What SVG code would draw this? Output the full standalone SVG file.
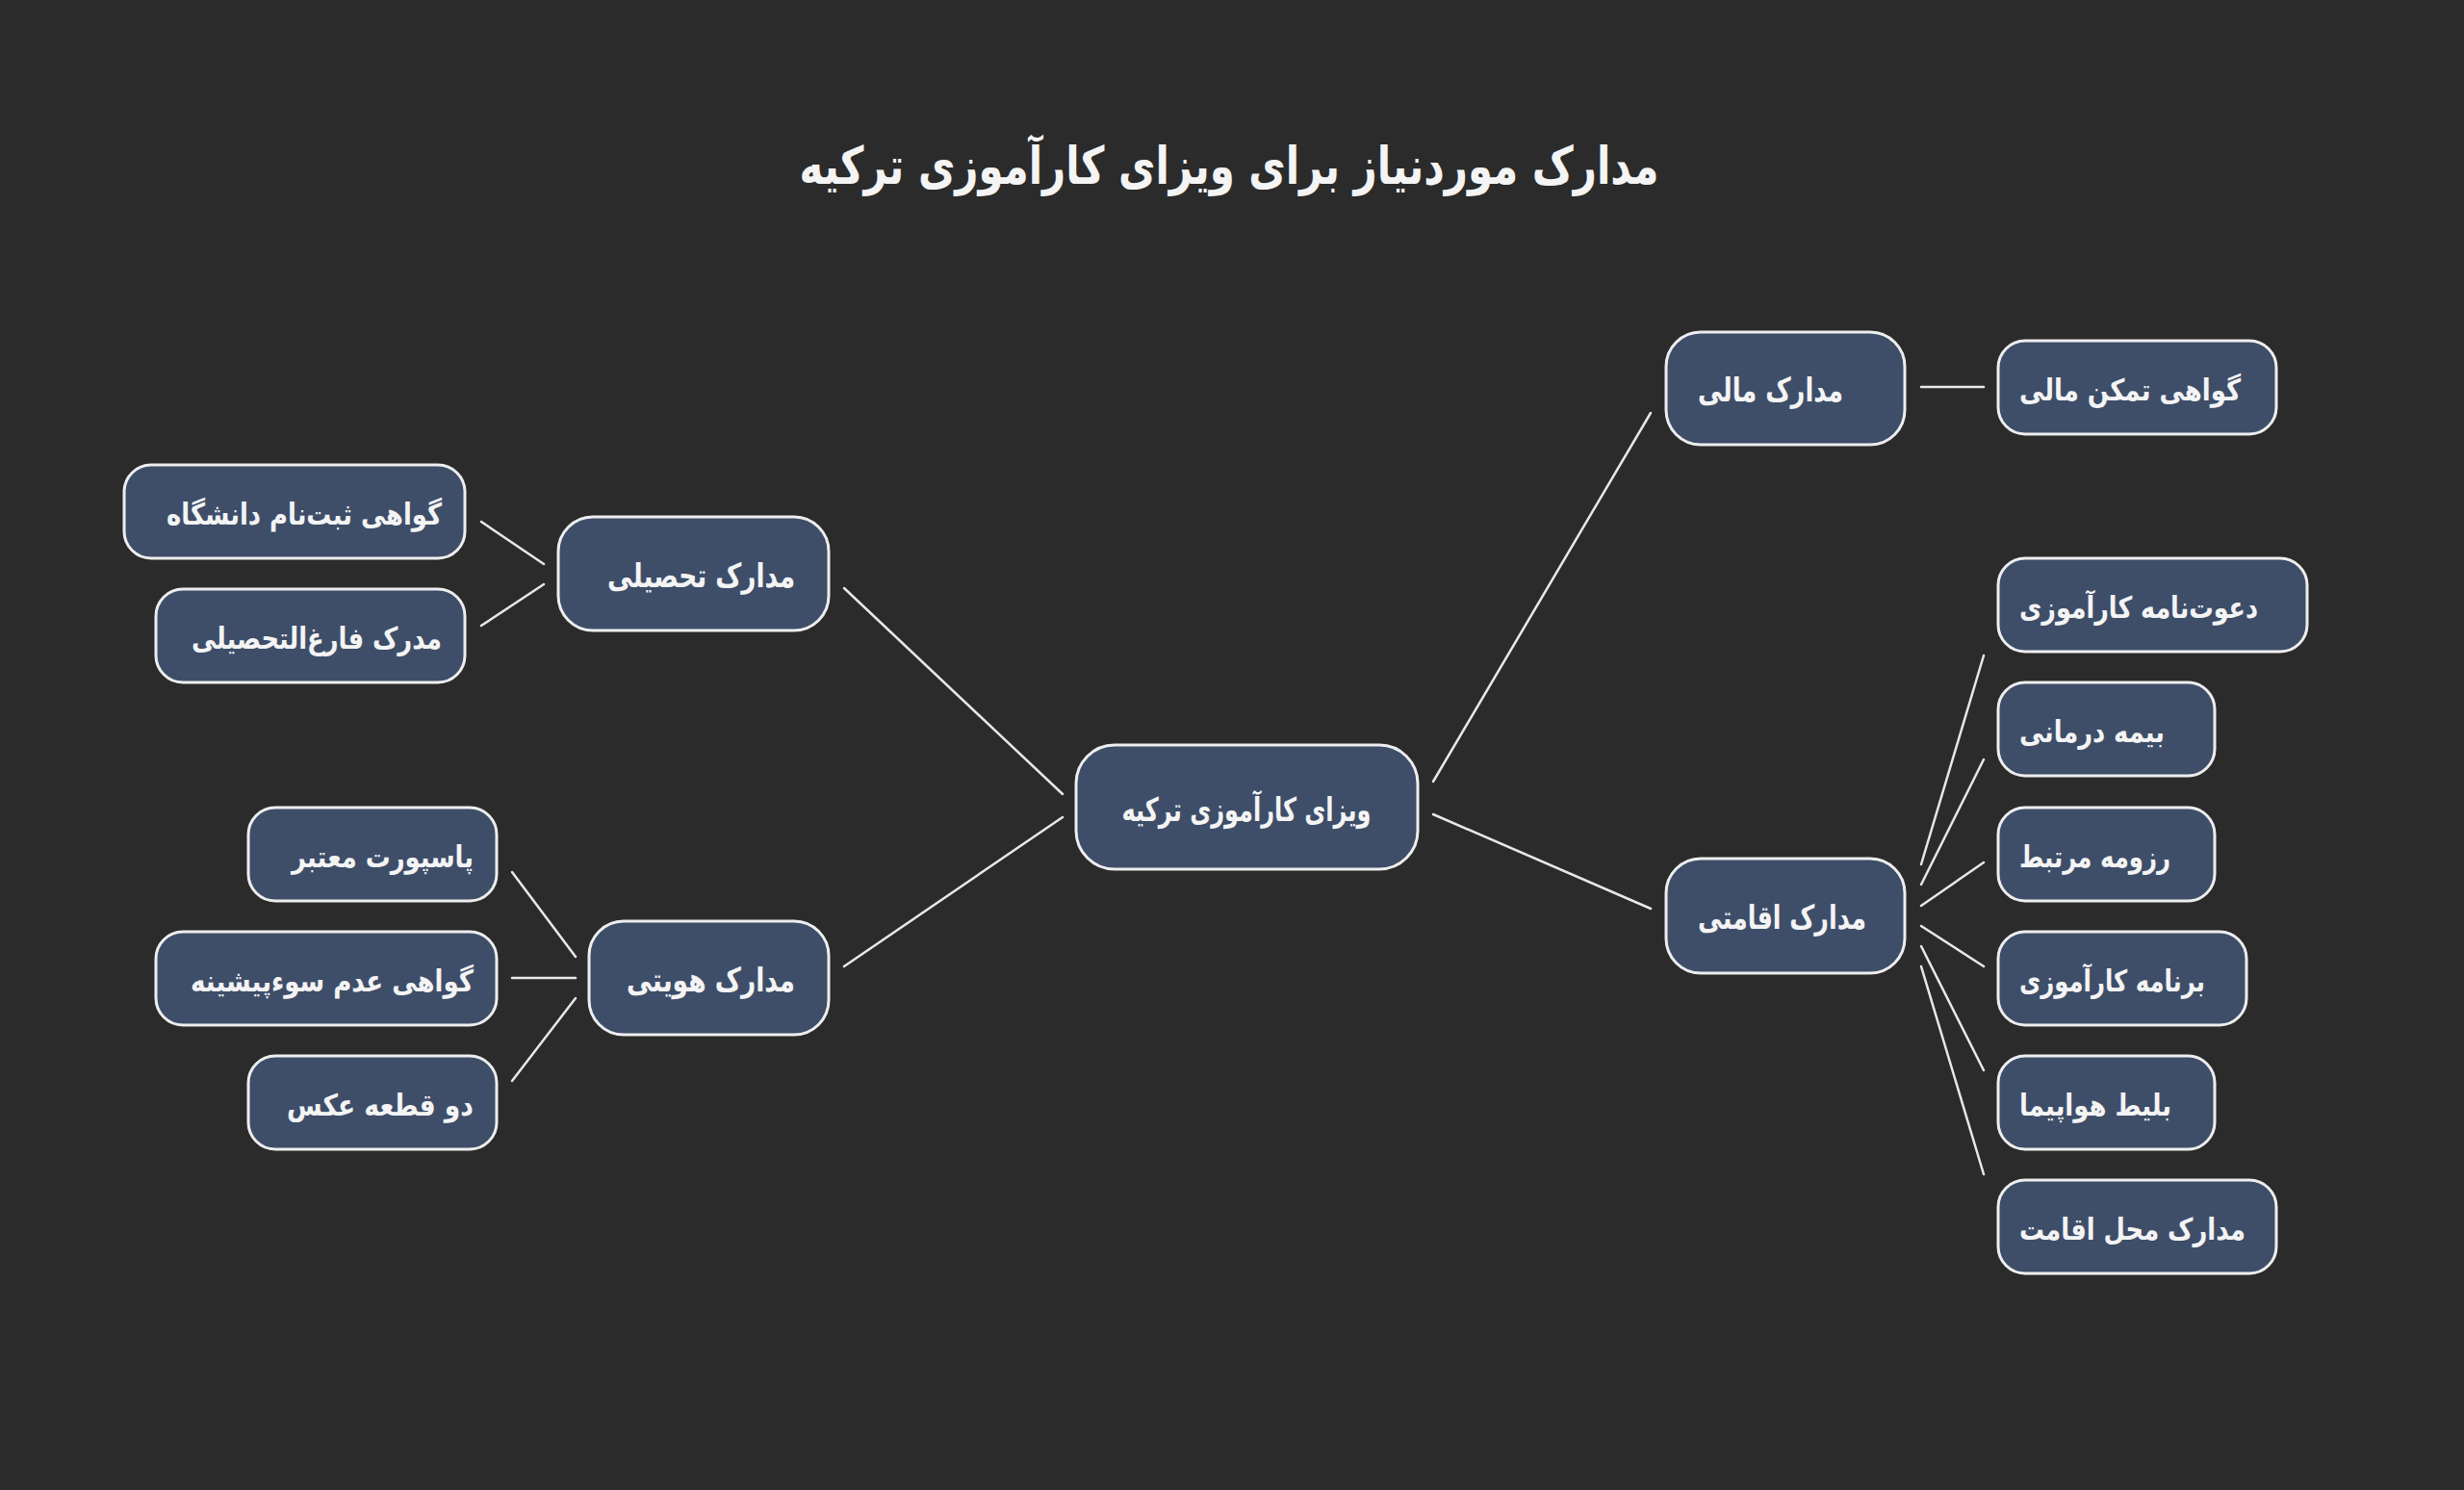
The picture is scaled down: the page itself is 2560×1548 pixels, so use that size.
<svg xmlns="http://www.w3.org/2000/svg" width="2560" height="1548" viewBox="0 0 2560 1548">
<style>
.bg{fill:#2b2b2b}
.node rect{fill:#3e4e69;stroke:#eeeeee;stroke-width:3}
.node text{fill:#f4f4f4;font-family:"DejaVu Sans",sans-serif;font-weight:bold;font-size:31px}
.big text{font-size:34px}
.edges line{stroke:#e8e8e8;stroke-width:2.5;stroke-linecap:round}
.title{fill:#f4f4f4;font-family:"DejaVu Sans",sans-serif;font-weight:bold;font-size:54px}
</style>
<rect class="bg" x="0" y="0" width="2560" height="1548"/>
<text class="title" x="1277" y="191" text-anchor="middle" textLength="893" lengthAdjust="spacingAndGlyphs">مدارک موردنیاز برای ویزای کارآموزی ترکیه</text>
<g class="edges" id="connectors">
<line x1="1104" y1="825" x2="877" y2="611"/>
<line x1="1104" y1="849" x2="877" y2="1004"/>
<line x1="1489" y1="812" x2="1715" y2="429"/>
<line x1="1489" y1="846" x2="1715" y2="944"/>
<line x1="565" y1="586" x2="500" y2="542"/>
<line x1="565" y1="607" x2="500" y2="650"/>
<line x1="598" y1="994" x2="532" y2="906"/>
<line x1="598" y1="1016" x2="532" y2="1016"/>
<line x1="598" y1="1037" x2="532" y2="1123"/>
<line x1="1996" y1="402" x2="2061" y2="402"/>
<line x1="1996" y1="898" x2="2061" y2="681"/>
<line x1="1996" y1="919" x2="2061" y2="789"/>
<line x1="1996" y1="941" x2="2061" y2="896"/>
<line x1="1996" y1="962" x2="2061" y2="1004"/>
<line x1="1996" y1="983" x2="2061" y2="1112"/>
<line x1="1996" y1="1004" x2="2061" y2="1220"/>
</g>
<g class="node big" id="n-center"><rect x="1118" y="774" width="355" height="129" rx="40"/><text x="1295" y="853" text-anchor="middle" textLength="259" lengthAdjust="spacingAndGlyphs">ویزای کارآموزی ترکیه</text></g>
<g class="node big" id="n-edu"><rect x="580" y="537" width="281" height="118" rx="36"/><text x="826" y="610" text-anchor="end" textLength="195" lengthAdjust="spacingAndGlyphs">مدارک تحصیلی</text></g>
<g class="node big" id="n-id"><rect x="612" y="957" width="249" height="118" rx="36"/><text x="826" y="1030" text-anchor="end" textLength="175" lengthAdjust="spacingAndGlyphs">مدارک هویتی</text></g>
<g class="node big" id="n-fin"><rect x="1731" y="345" width="248" height="117" rx="36"/><text x="1764" y="417" text-anchor="start" textLength="151" lengthAdjust="spacingAndGlyphs">مدارک مالی</text></g>
<g class="node big" id="n-res"><rect x="1731" y="892" width="248" height="119" rx="36"/><text x="1764" y="965" text-anchor="start" textLength="175" lengthAdjust="spacingAndGlyphs">مدارک اقامتی</text></g>
<g class="node" id="n-l1"><rect x="129" y="483" width="354" height="97" rx="28"/><text x="459" y="545" text-anchor="end" textLength="286" lengthAdjust="spacingAndGlyphs">گواهی ثبت‌نام دانشگاه</text></g>
<g class="node" id="n-l2"><rect x="162" y="612" width="321" height="97" rx="28"/><text x="459" y="674" text-anchor="end" textLength="260" lengthAdjust="spacingAndGlyphs">مدرک فارغ‌التحصیلی</text></g>
<g class="node" id="n-l3"><rect x="258" y="839" width="258" height="97" rx="28"/><text x="492" y="901" text-anchor="end" textLength="189" lengthAdjust="spacingAndGlyphs">پاسپورت معتبر</text></g>
<g class="node" id="n-l4"><rect x="162" y="968" width="354" height="97" rx="28"/><text x="492" y="1030" text-anchor="end" textLength="294" lengthAdjust="spacingAndGlyphs">گواهی عدم سوءپیشینه</text></g>
<g class="node" id="n-l5"><rect x="258" y="1097" width="258" height="97" rx="28"/><text x="492" y="1159" text-anchor="end" textLength="194" lengthAdjust="spacingAndGlyphs">دو قطعه عکس</text></g>
<g class="node" id="n-r1"><rect x="2076" y="354" width="289" height="97" rx="28"/><text x="2098" y="416" text-anchor="start" textLength="230" lengthAdjust="spacingAndGlyphs">گواهی تمکن مالی</text></g>
<g class="node" id="n-r2"><rect x="2076" y="580" width="321" height="97" rx="28"/><text x="2098" y="642" text-anchor="start" textLength="248" lengthAdjust="spacingAndGlyphs">دعوت‌نامه کارآموزی</text></g>
<g class="node" id="n-r3"><rect x="2076" y="709" width="225" height="97" rx="28"/><text x="2098" y="771" text-anchor="start" textLength="151" lengthAdjust="spacingAndGlyphs">بیمه درمانی</text></g>
<g class="node" id="n-r4"><rect x="2076" y="839" width="225" height="97" rx="28"/><text x="2098" y="901" text-anchor="start" textLength="157" lengthAdjust="spacingAndGlyphs">رزومه مرتبط</text></g>
<g class="node" id="n-r5"><rect x="2076" y="968" width="258" height="97" rx="28"/><text x="2098" y="1030" text-anchor="start" textLength="193" lengthAdjust="spacingAndGlyphs">برنامه کارآموزی</text></g>
<g class="node" id="n-r6"><rect x="2076" y="1097" width="225" height="97" rx="28"/><text x="2098" y="1159" text-anchor="start" textLength="158" lengthAdjust="spacingAndGlyphs">بلیط هواپیما</text></g>
<g class="node" id="n-r7"><rect x="2076" y="1226" width="289" height="97" rx="28"/><text x="2098" y="1288" text-anchor="start" textLength="235" lengthAdjust="spacingAndGlyphs">مدارک محل اقامت</text></g>
</svg>
